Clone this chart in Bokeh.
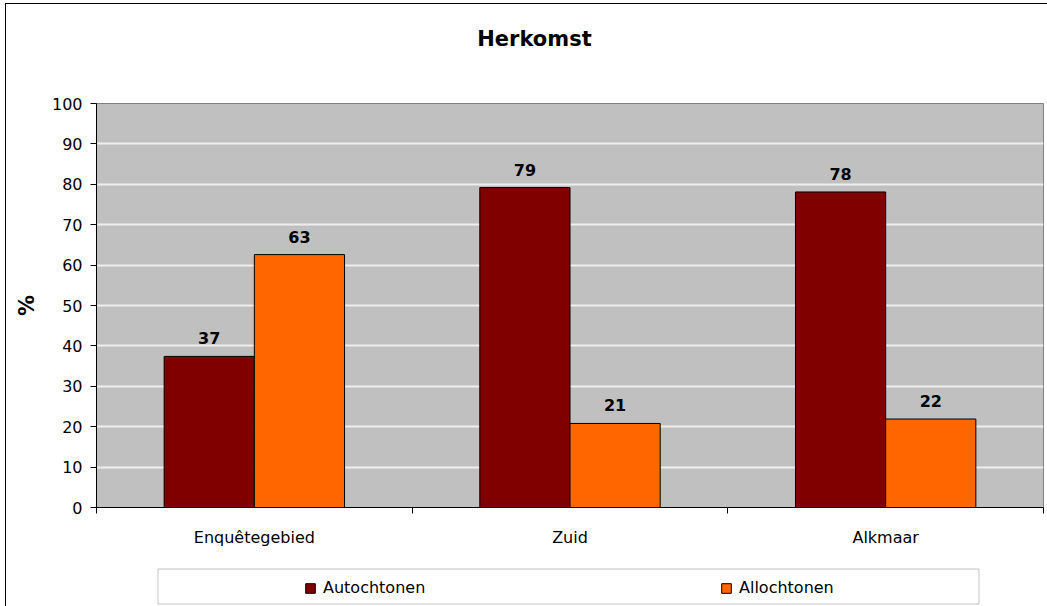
from bokeh.plotting import figure
from bokeh.layouts import column
from bokeh.models import (Range1d, FixedTicker, Legend, LegendItem, ColumnDataSource,
                          BoxAnnotation, Label)
from bokeh.embed import file_html
from bokeh.resources import INLINE
from bokeh.core.properties import value

# ---------------- data ----------------
chart_title = "Herkomst"
y_axis_title = "%"
categories = ["Enquêtegebied", "Zuid", "Alkmaar"]
series_names = ["Autochtonen", "Allochtonen"]
autochtonen = [37.4, 79.2, 78.1]
allochtonen = [62.6, 20.8, 21.9]
y_ticks = [0, 10, 20, 30, 40, 50, 60, 70, 80, 90, 100]
series_colors = ["#800000", "#FF6600"]

FONT_NAME = "DejaVu Sans"
FONT = value(FONT_NAME)
W = 1047
H_TITLE, H_MAIN, H_LEG = 70, 490, 46
FRAME_LEFT = 96  # frames of the stacked figures are aligned on this edge


def strip(height):
    f = figure(width=W, height=height, output_backend="svg", toolbar_location=None,
               x_range=Range1d(0, 1), y_range=Range1d(0, 1),
               x_axis_location=None, y_axis_location=None,
               min_border_left=FRAME_LEFT, min_border_right=4,
               min_border_top=0, min_border_bottom=0)
    f.title.visible = False
    f.outline_line_color = None
    f.background_fill_color = "white"
    f.border_fill_color = "white"
    f.xgrid.visible = False
    f.ygrid.visible = False
    return f


# ---------------- title strip ----------------
top = strip(H_TITLE)
top.add_layout(Label(x=534 - FRAME_LEFT, y=H_TITLE - 38, x_units="screen", y_units="screen",
                     text=chart_title, text_align="center", text_baseline="alphabetic",
                     text_font=FONT_NAME, text_font_style="bold", text_font_size="21px",
                     text_color="black"))

# ---------------- main chart ----------------
p = figure(width=W, height=H_MAIN, output_backend="svg", toolbar_location=None,
           x_range=Range1d(0, len(categories)), y_range=Range1d(0, 100),
           min_border_left=FRAME_LEFT, min_border_right=4, min_border_top=103 - H_TITLE,
           min_border_bottom=H_MAIN - (507 - H_TITLE))
p.title.visible = False
p.background_fill_color = "#C0C0C0"
p.border_fill_color = "white"
p.outline_line_color = "#808080"
p.outline_line_width = 1

# bars (gap width 75% -> group = 1/1.75 of category)
bar_w = 1 / 3.5
centers = [i + 0.5 for i in range(len(categories))]
for k, (vals, col) in enumerate(zip([autochtonen, allochtonen], series_colors)):
    off = (k - 0.5) * bar_w
    src = ColumnDataSource(dict(x=[c + off for c in centers], top=vals,
                                label=[str(int(round(v))) for v in vals]))
    p.vbar(x="x", top="top", bottom=0, width=bar_w, source=src,
           fill_color=col, line_color="black", line_width=1)
    p.text(x="x", y="top", text="label", source=src, text_align="center",
           text_baseline="alphabetic", y_offset=-18, text_font=FONT,
           text_font_style="bold", text_font_size="16px", text_color="black")

# axes
xa = p.xaxis[0]
xa.ticker = FixedTicker(ticks=centers, minor_ticks=list(range(len(categories) + 1)))
xa.major_label_overrides = {c: name for c, name in zip(centers, categories)}
xa.major_tick_line_color = None
xa.major_tick_out = 0
xa.major_tick_in = 0
xa.minor_tick_line_color = "black"
xa.minor_tick_out = 6
xa.minor_tick_in = 0
xa.axis_line_color = "black"
xa.major_label_standoff = 14
xa.major_label_text_font = FONT_NAME
xa.major_label_text_font_size = "16px"
xa.major_label_text_color = "black"

ya = p.yaxis[0]
ya.ticker = FixedTicker(ticks=y_ticks)
ya.major_tick_out = 6
ya.major_tick_in = 0
ya.major_tick_line_color = "black"
ya.minor_tick_line_color = None
ya.axis_line_color = "black"
ya.major_label_standoff = 8
ya.major_label_text_font = FONT_NAME
ya.major_label_text_font_size = "16px"
ya.major_label_text_color = "black"
ya.axis_label = y_axis_title
ya.axis_label_standoff = 10
ya.axis_label_text_font = FONT_NAME
ya.axis_label_text_font_style = "bold"
ya.axis_label_text_font_size = "21px"
ya.axis_label_text_color = "black"

p.xgrid.visible = False
p.ygrid.ticker = FixedTicker(ticks=y_ticks[1:-1])
p.ygrid.grid_line_color = "#EEEEEE"
p.ygrid.grid_line_width = 2

# ---------------- legend strip ----------------
leg = strip(H_LEG)
swatches = []
for col in series_colors:
    swatches.append(leg.vbar(x=[-10], top=[-10], bottom=[-11], width=0.1,
                             fill_color=col, line_color="black", line_width=1))

leg.add_layout(BoxAnnotation(left=157.5 - FRAME_LEFT, right=978.5 - FRAME_LEFT,
                             top=H_LEG - 8.5, bottom=H_LEG - 43.5,
                             left_units="screen", right_units="screen",
                             top_units="screen", bottom_units="screen",
                             fill_color="white", fill_alpha=1,
                             line_color="#404040", line_width=1, level="underlay"))

legend = Legend(items=[LegendItem(label=n, renderers=[r]) for n, r in zip(series_names, swatches)],
                orientation="horizontal", location=(304 - FRAME_LEFT, 9), padding=0, margin=0,
                spacing=287, glyph_width=12, glyph_height=12, label_standoff=7,
                label_width=110, label_height=12, label_text_font=FONT_NAME,
                label_text_font_size="16px", label_text_color="black",
                border_line_color=None, background_fill_alpha=0)
leg.add_layout(legend)

layout = column(top, p, leg, spacing=0)
layout.stylesheets = [
    ":host { position: relative; }"
    ":host::before { content: ''; position: absolute; left: 5px; top: 3px; right: 0; bottom: 0;"
    " border-left: 1px solid #000; border-top: 1px solid #000; pointer-events: none; z-index: 2; }"
]

open("out.html", "w").write(file_html(layout, INLINE))
